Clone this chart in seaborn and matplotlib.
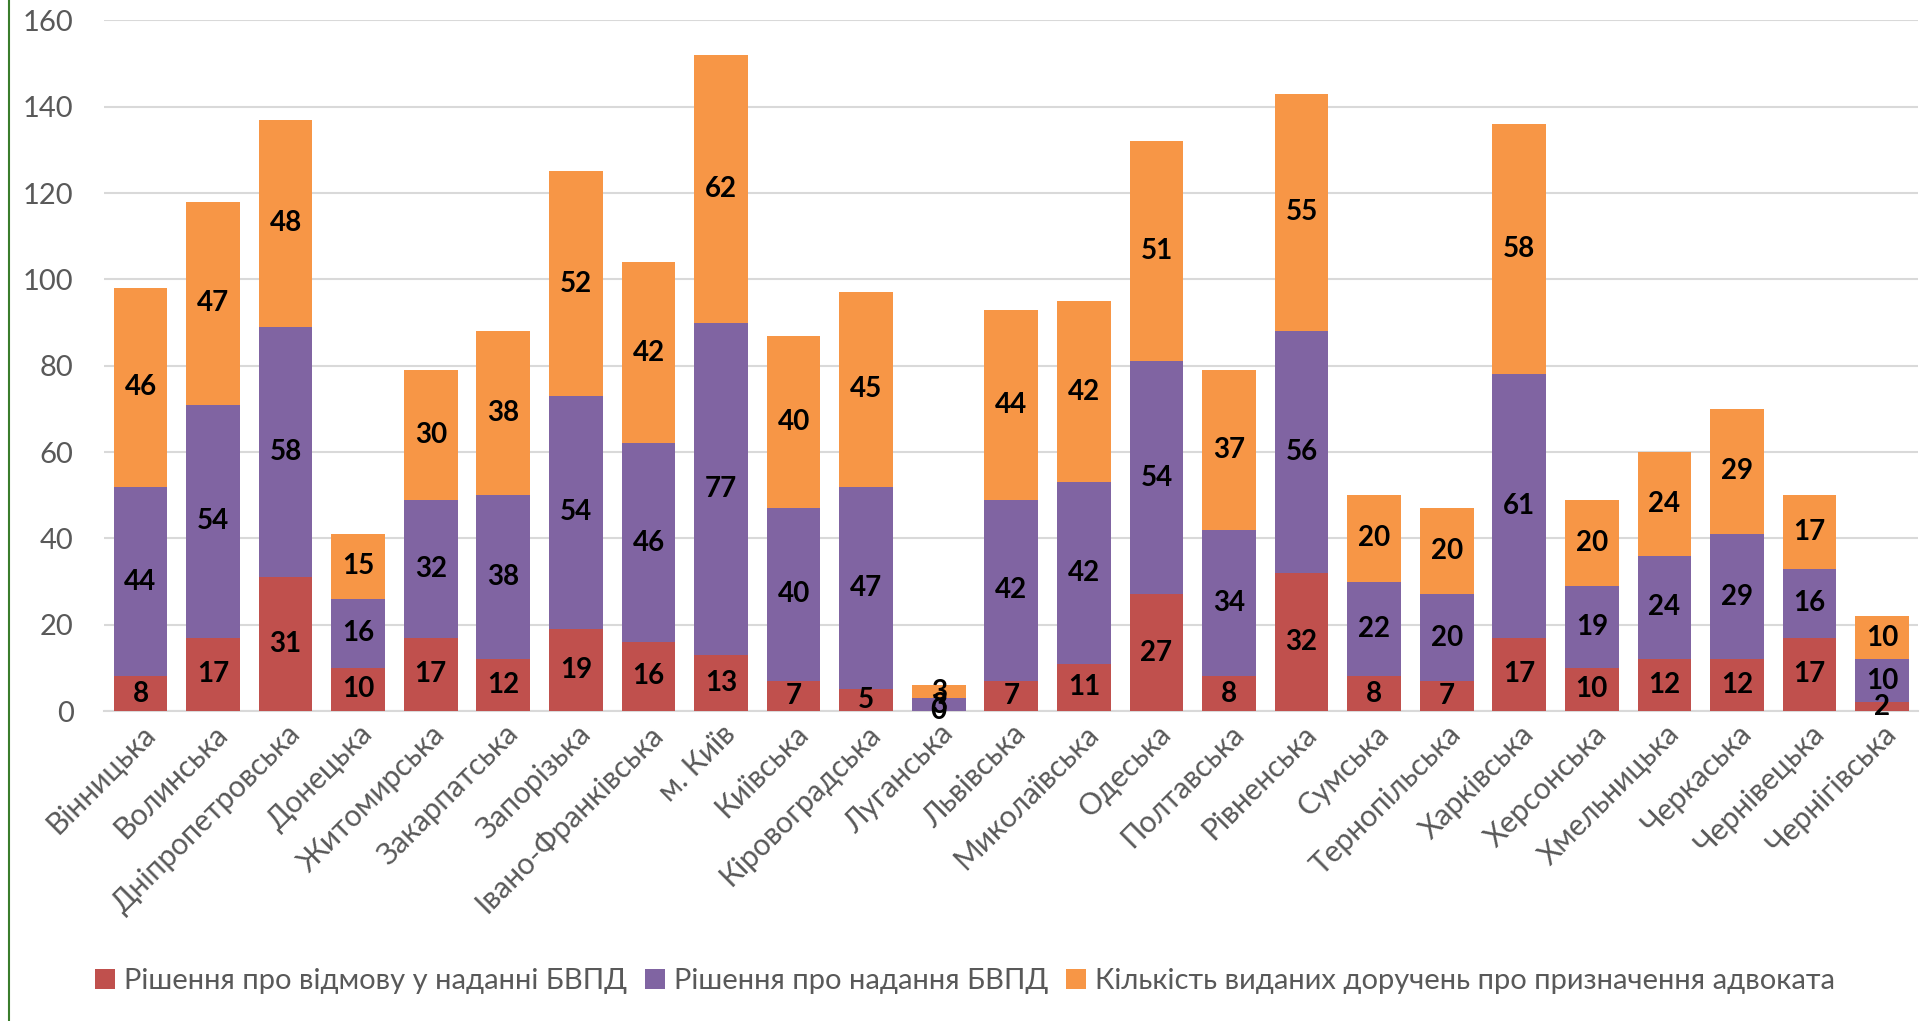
import numpy as np
import pandas as pd
import matplotlib.pyplot as plt
import matplotlib.lines as mlines
from matplotlib.patches import Patch
import seaborn as sns

# Data
regions = ['Вінницька', 'Волинська', 'Дніпропетровська', 'Донецька', 'Житомирська',
           'Закарпатська', 'Запорізька', 'Івано-Франківська', 'м. Київ', 'Київська',
           'Кіровоградська', 'Луганська', 'Львівська', 'Миколаївська', 'Одеська',
           'Полтавська', 'Рівненська', 'Сумська', 'Тернопільська', 'Харківська',
           'Херсонська', 'Хмельницька', 'Черкаська', 'Чернівецька', 'Чернігівська']
refused = [8, 17, 31, 10, 17, 12, 19, 16, 13, 7, 5, 0, 7, 11, 27, 8, 32, 8, 7, 17, 10, 12, 12, 17, 2]
granted = [44, 54, 58, 16, 32, 38, 54, 46, 77, 40, 47, 3, 42, 42, 54, 34, 56, 22, 20, 61, 19, 24, 29, 16, 10]
orders = [46, 47, 48, 15, 30, 38, 52, 42, 62, 40, 45, 3, 44, 42, 51, 37, 55, 20, 20, 58, 20, 24, 29, 17, 10]

series_names = ['Рішення про відмову у наданні БВПД',
                'Рішення про надання БВПД',
                'Кількість виданих доручень про призначення адвоката']
colors = ['#C0504D', '#8064A2', '#F79646']

df = pd.DataFrame({'region': regions, 'refused': refused, 'granted': granted, 'orders': orders})
df['c1'] = df['refused']
df['c2'] = df['refused'] + df['granted']
df['c3'] = df['c2'] + df['orders']

sns.set_style('white')
plt.rcParams['font.family'] = ['Lato', 'DejaVu Sans']

fig = plt.figure(figsize=(19.3, 10.21), dpi=100)
ax = fig.add_axes([0.054, 0.3036, 0.94, 0.6764])

# stacked bars drawn as overlapping cumulative bars
for col, color in zip(['c3', 'c2', 'c1'], colors[::-1]):
    sns.barplot(data=df, x='region', y=col, order=regions, color=color,
                width=0.74, errorbar=None, saturation=1, ax=ax, zorder=3,
                linewidth=0)

# value labels at segment centres
for i, row in df.iterrows():
    for val, base in [(row['refused'], 0), (row['granted'], row['c1']), (row['orders'], row['c2'])]:
        ax.text(i, base + val / 2, str(val), ha='center', va='center',
                fontsize=20, fontweight='bold', color='black', zorder=5)

ax.set_ylim(0, 160)
ax.set_xlim(-0.5, len(regions) - 0.5)
ax.set_yticks(range(0, 161, 20))
ax.yaxis.grid(True, color='#D9D9D9', linewidth=1.5, zorder=0)
ax.set_axisbelow(True)
for s in ['top', 'right', 'left']:
    ax.spines[s].set_visible(False)
ax.spines['bottom'].set_color('#D9D9D9')
ax.spines['bottom'].set_linewidth(1.5)
ax.set_xlabel('')
ax.set_ylabel('')
ax.tick_params(axis='y', labelsize=21, colors='#595959', length=0, pad=22)
ax.tick_params(axis='x', labelsize=21.5, colors='#595959', length=0, pad=6)
plt.setp(ax.get_xticklabels(), rotation=45, ha='right', rotation_mode='anchor')

handles = [Patch(facecolor=c, edgecolor='none') for c in colors]
leg = fig.legend(handles, series_names, loc='center', bbox_to_anchor=(0.5, 0.039),
                 ncol=3, frameon=False, fontsize=21, handlelength=0.7, handleheight=0.7,
                 handletextpad=0.3, columnspacing=0.6)
for t in leg.get_texts():
    t.set_color('#595959')

# green frame line on the left
fig.add_artist(mlines.Line2D([0.0045, 0.0045], [0, 1], color='#3A7D2C', linewidth=1.5))

fig.savefig('out.png', dpi=100)
